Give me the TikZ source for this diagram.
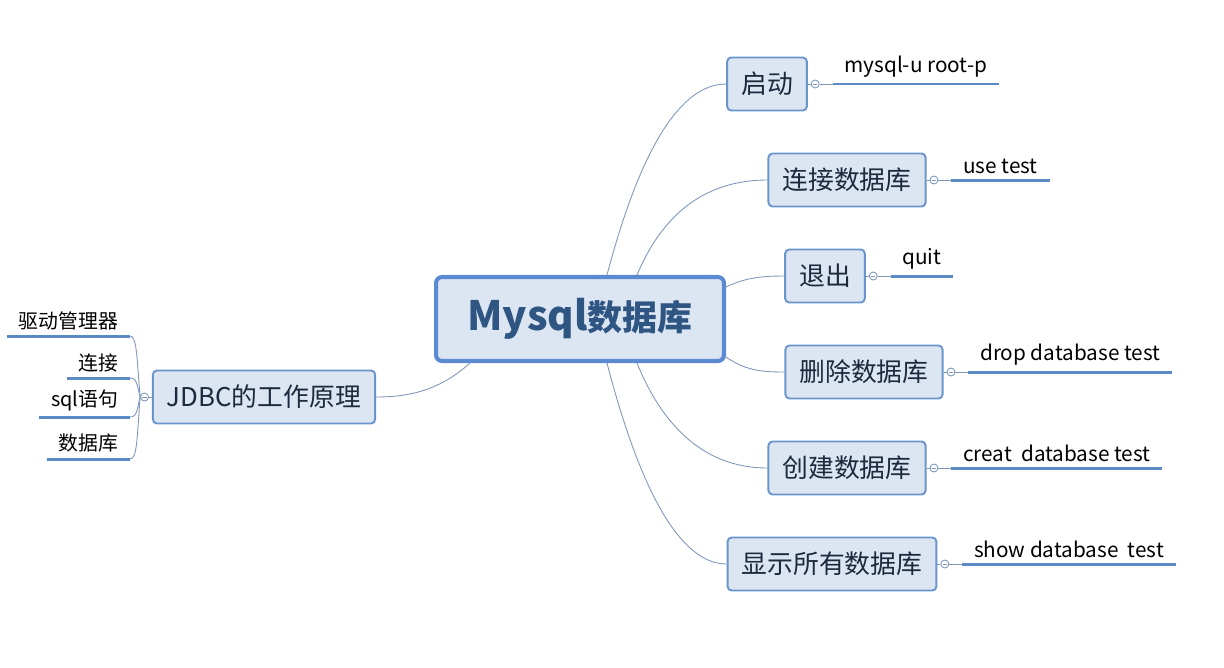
\documentclass[tikz,border=0pt]{standalone}
\usepackage{fontspec}
\setmainfont{Noto Sans CJK SC}
\usetikzlibrary{positioning}

\definecolor{boxfill}{HTML}{DCE6F2}
\definecolor{boxline}{HTML}{6A95CB}
\definecolor{mainline}{HTML}{5A8AD2}
\definecolor{maintext}{HTML}{2F5583}
\definecolor{boxtext}{HTML}{1B2A3E}
\definecolor{linkline}{HTML}{7F97BA}
\definecolor{ulcolor}{HTML}{5B8AC6}

\begin{document}
\begin{tikzpicture}[
    x=0.02cm, y=-0.02cm,
    topic/.style={draw=boxline, line width=1.1pt, fill=boxfill, rounded corners=0.08cm,
        minimum height=1.06cm, inner xsep=0.28cm, text=boxtext,
        font=\fontsize{14.7}{16}\selectfont},
    central/.style={draw=mainline, line width=2.3pt, fill=boxfill, rounded corners=0.12cm,
        minimum height=1.68cm, minimum width=5.76cm, text=maintext,
        font=\fontsize{19.9}{22}\selectfont\bfseries},
    knob/.style={circle, draw=linkline, line width=0.5pt, fill=white,
        minimum size=0.16cm, inner sep=0pt},
    leaf/.style={inner xsep=0.23cm, inner ysep=0.12cm, font=\fontsize{11.3}{13}\selectfont},
    cmd/.style={leaf, font=\fontsize{11.8}{13}\selectfont},
    link/.style={draw=linkline, line width=0.5pt},
    uline/.style={draw=ulcolor, line width=1.7pt}
]
\useasboundingbox (0,0) rectangle (1224,667);

% Central topic
\node[central] (db) at (580,319) {{\fontsize{23}{24}\selectfont Mysql}数据库};

% Right topics
\node[topic] (b1) at (767,84)  {启动};
\node[topic] (b2) at (847,180) {连接数据库};
\node[topic] (b3) at (825,276) {退出};
\node[topic] (b4) at (864,372) {删除数据库};
\node[topic] (b5) at (847,468) {创建数据库};
\node[topic] (b6) at (832,564) {显示所有数据库};

% Left topic
\node[topic] (jd) at (264,397) {JDBC的工作原理};

% Links from the central topic
\draw[link] ([xshift=0.54cm]db.north) .. controls (640,150) and (680,84) .. (b1.west);
\draw[link] ([xshift=1.14cm]db.north) .. controls (660,220) and (700,180) .. (b2.west);
\draw[link] ([yshift=0.64cm]db.east) .. controls (745,278) and (760,276) .. (b3.west);
\draw[link] ([yshift=-0.76cm]db.east) .. controls (745,370) and (760,372) .. (b4.west);
\draw[link] ([xshift=1.14cm]db.south) .. controls (660,420) and (700,468) .. (b5.west);
\draw[link] ([xshift=0.54cm]db.south) .. controls (640,490) and (680,564) .. (b6.west);
\draw[link] ([xshift=-2.2cm]db.south) .. controls (440,390) and (410,397) .. (jd.east);

% Collapse knobs
\node[knob, right=0.06cm of b1] (c1) {};
\node[knob, right=0.06cm of b2] (c2) {};
\node[knob, right=0.06cm of b3] (c3) {};
\node[knob, right=0.06cm of b4] (c4) {};
\node[knob, right=0.06cm of b5] (c5) {};
\node[knob, right=0.06cm of b6] (c6) {};
\node[knob, left=0.06cm of jd] (c0) {};

% Right leaves
\node[cmd, anchor=south west] (l1) at ([xshift=0.26cm]c1.east) {mysql-u root-p};
\node[cmd, anchor=south west] (l2) at ([xshift=0.26cm]c2.east) {use test};
\node[cmd, anchor=south west] (l3) at ([xshift=0.26cm]c3.east) {quit};
\node[cmd, anchor=south west] (l4) at ([xshift=0.26cm]c4.east) {drop database test};
\node[cmd, anchor=south west] (l5) at ([xshift=0.26cm]c5.east) {creat\ \ database test};
\node[cmd, anchor=south west] (l6) at ([xshift=0.26cm]c6.east) {show database\ \ test};

\foreach \i in {1,...,6} {
    \draw[link] (b\i.east) -- (c\i.west);
    \draw[link] (c\i.east) -- (l\i.south west);
    \draw[uline] (l\i.south west) -- (l\i.south east);
}

% Left leaves
\node[leaf, anchor=south east] (k1) at (130,336) {驱动管理器};
\node[leaf, anchor=south east] (k2) at (130,378) {连接};
\node[leaf, anchor=south east] (k3) at (130,417) {sql语句};
\node[leaf, anchor=south east] (k4) at (130,459) {数据库};

\draw[link] (jd.west) -- (c0.east);
\draw[link] (c0.west) .. controls (137,360) and (137,336) .. (k1.south east);
\draw[link] (c0.west) .. controls (137,385) and (137,378) .. (k2.south east);
\draw[link] (c0.west) .. controls (137,410) and (137,417) .. (k3.south east);
\draw[link] (c0.west) .. controls (137,440) and (137,459) .. (k4.south east);
\foreach \i in {1,...,4}
    \draw[uline] (k\i.south west) -- (k\i.south east);

% Minus signs in the knobs
\foreach \c in {c0,c1,c2,c3,c4,c5,c6}
    \draw[link] ([xshift=-0.045cm]\c.center) -- ([xshift=0.045cm]\c.center);

\end{tikzpicture}
\end{document}
